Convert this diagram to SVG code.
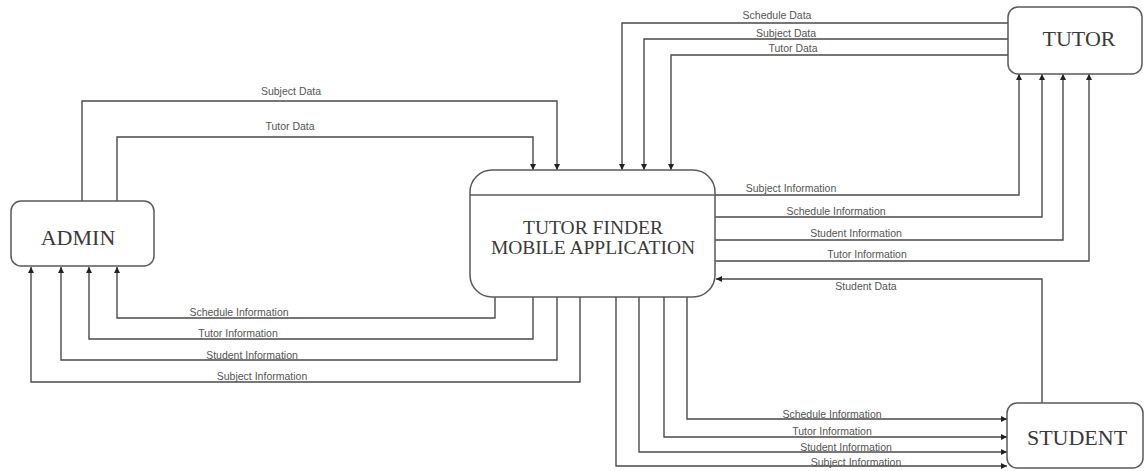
<svg xmlns="http://www.w3.org/2000/svg" width="1144" height="471" viewBox="0 0 1144 471">
<style>
.box{fill:#fff;stroke:#5a5a5a;stroke-width:1.5}
.node{font-family:"Liberation Serif","Times New Roman",serif;fill:#3a3a3a;text-anchor:middle}
.c{fill:none;stroke:#4a4a4a;stroke-width:1.4;marker-end:url(#ah)}
.lbl{font-family:"Liberation Sans",Arial,sans-serif;font-size:10.5px;fill:#555;text-anchor:middle}
</style>
<defs>
<marker id="ah" viewBox="0 0 10 10" refX="10" refY="5" markerWidth="7" markerHeight="6" markerUnits="userSpaceOnUse" orient="auto">
<path d="M0,0 L10,5 L0,10 z" fill="#222"/>
</marker>
</defs>
<rect width="1144" height="471" fill="#fff"/>
<g id="connectors">
<path class="c" d="M82,201 V101 H557 V170"/>
<path class="c" d="M117,201 V137 H533 V170"/>
<path class="c" d="M495,297 V318 H117 V267"/>
<path class="c" d="M533,297 V339 H89 V267"/>
<path class="c" d="M557,297 V360 H61 V267"/>
<path class="c" d="M580,297 V382 H31 V267"/>
<path class="c" d="M1008,23 H622 V170"/>
<path class="c" d="M1008,39 H644 V170"/>
<path class="c" d="M1008,55 H671 V170"/>
<path class="c" d="M715,195 H1019 V74"/>
<path class="c" d="M715,217 H1042 V74"/>
<path class="c" d="M715,240 H1063 V74"/>
<path class="c" d="M715,261 H1089 V74"/>
<path class="c" d="M1042,403 V279 H716"/>
<path class="c" d="M687,297 V419 H1007"/>
<path class="c" d="M664,297 V437 H1007"/>
<path class="c" d="M639,297 V452 H1007"/>
<path class="c" d="M616,297 V466 H1007"/>
<text class="lbl" x="291" y="95">Subject Data</text>
<text class="lbl" x="290" y="130">Tutor Data</text>
<text class="lbl" x="239" y="316">Schedule Information</text>
<text class="lbl" x="238" y="337">Tutor Information</text>
<text class="lbl" x="252" y="359">Student Information</text>
<text class="lbl" x="262" y="380">Subject Information</text>
<text class="lbl" x="777" y="19">Schedule Data</text>
<text class="lbl" x="786" y="37">Subject Data</text>
<text class="lbl" x="793" y="52">Tutor Data</text>
<text class="lbl" x="791" y="192">Subject Information</text>
<text class="lbl" x="836" y="215">Schedule Information</text>
<text class="lbl" x="856" y="237">Student Information</text>
<text class="lbl" x="867" y="258">Tutor Information</text>
<text class="lbl" x="866" y="290">Student Data</text>
<text class="lbl" x="832" y="418">Schedule Information</text>
<text class="lbl" x="832" y="435">Tutor Information</text>
<text class="lbl" x="846" y="451">Student Information</text>
<text class="lbl" x="856" y="466">Subject Information</text>
</g>
<g id="admin">
<rect class="box" x="11" y="201" width="143" height="65" rx="10"/>
<text class="node" x="78" y="245" font-size="22">ADMIN</text>
</g>
<g id="tutor-finder">
<rect class="box" x="470" y="170" width="245" height="127" rx="22"/>
<line x1="470" y1="195" x2="715" y2="195" stroke="#5a5a5a" stroke-width="1.5"/>
<text class="node" x="593" y="234" font-size="19.5">TUTOR FINDER</text>
<text class="node" x="593" y="254" font-size="19.5">MOBILE APPLICATION</text>
</g>
<g id="tutor">
<rect class="box" x="1008" y="7" width="134" height="67" rx="10"/>
<text class="node" x="1079" y="46" font-size="22">TUTOR</text>
</g>
<g id="student">
<rect class="box" x="1007" y="403" width="136" height="65" rx="10"/>
<text class="node" x="1077" y="445" font-size="22">STUDENT</text>
</g>
</svg>
